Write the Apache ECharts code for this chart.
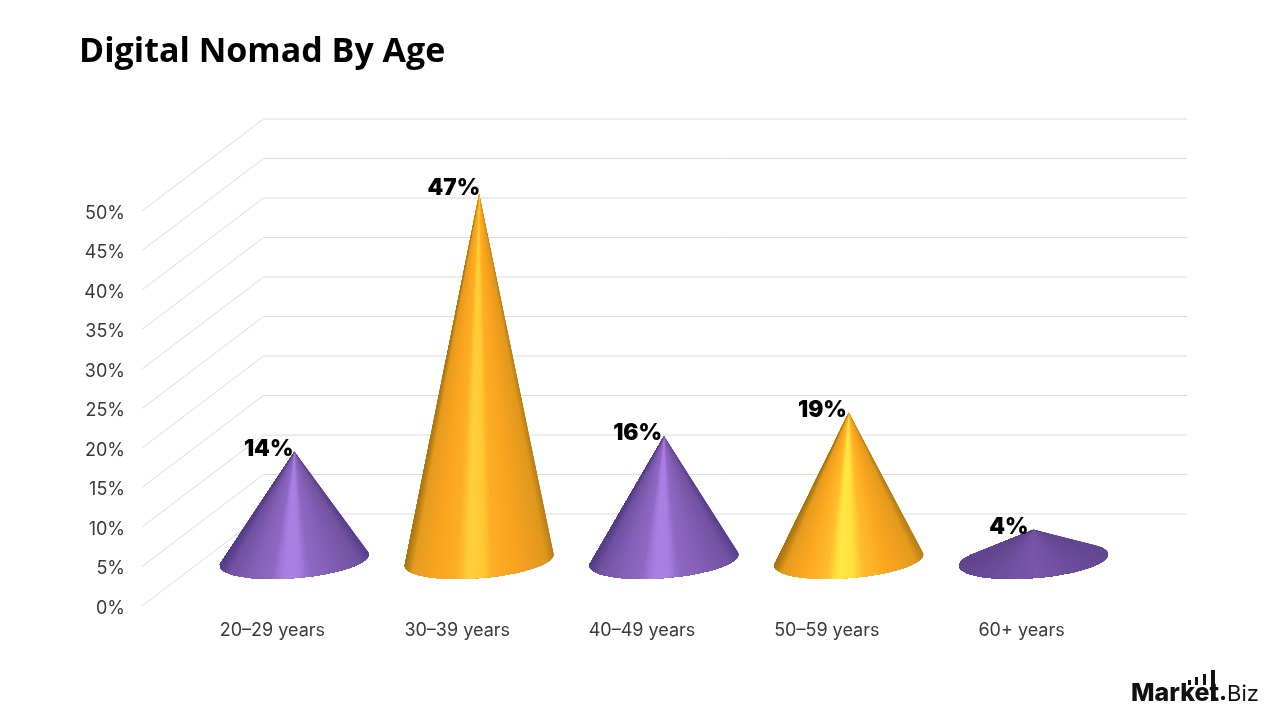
<!DOCTYPE html>
<html>
<head>
<meta charset="utf-8">
<style>html,body{margin:0;padding:0;background:#fff}#chart{width:1280px;height:720px}</style>
<script src="https://cdn.jsdelivr.net/npm/echarts@6/dist/echarts.min.js"></script>
</head>
<body>
<div id="chart"></div>
<script>
// Age groups and their share of digital nomads, in percent
const categories = ['20–29 years', '30–39 years', '40–49 years', '50–59 years', '60+ years'];
const shares = [14, 47, 16, 19, 4];
const yTicks = [0, 5, 10, 15, 20, 25, 30, 35, 40, 45, 50];

// Colour ramps across each cone, from its left edge (-1) to its right edge (1)
const purpleRamp = [[-1, '#5b4090'], [-0.88, '#73529f'], [-0.45, '#8560b8'], [-0.18, '#9068c4'], [-0.04, '#aa7ee2'], [0.16, '#aa7ee2'], [0.32, '#9068c4'], [0.6, '#8560b6'], [0.9, '#70509f'], [1, '#573d88']];
const orangeRamp = [[-1, '#b67f17'], [-0.9, '#e0981c'], [-0.45, '#fba420'], [-0.16, '#fdae25'], [-0.04, '#ffc932'], [0.16, '#ffd03a'], [0.32, '#fdae25'], [0.6, '#fba420'], [0.9, '#e69b1e'], [1, '#a87614']];
const yellowRamp = [[-1, '#b67f17'], [-0.9, '#e49a1c'], [-0.45, '#fda920'], [-0.18, '#ffbc2c'], [-0.04, '#ffe03e'], [0.16, '#ffe842'], [0.32, '#ffbc2c'], [0.6, '#fda920'], [0.9, '#e69b1e'], [1, '#a87614']];
const dimRamp = [[-1, '#634790'], [-0.5, '#6e4e9e'], [0, '#7a55ab'], [0.5, '#6e4e9e'], [1, '#62468e']];
const coneRamps = [purpleRamp, orangeRamp, purpleRamp, yellowRamp, dimRamp];

// Oblique projection of the chart floor and the cone bases
const depthX = 121.5, depthY = -92, wallRight = 1187;
const baseTilt = -4.6 * Math.PI / 180, baseMajor = 0.404, baseMinor = 18, baseLift = 1, fanSlices = 72;

// Small offsets that keep each percentage clear of its cone's tip
const labelNudgeX = [-1, 1, -2, -2, -5];
const labelNudgeY = [-3, -6, -3, -3, -3];

function hexToRgb(h) { return [1, 3, 5].map(i => parseInt(h.slice(i, i + 2), 16)); }
function rampColor(ramp, u) {
  for (let i = 1; i < ramp.length; i++) {
    if (u <= ramp[i][0]) {
      const f = (u - ramp[i - 1][0]) / (ramp[i][0] - ramp[i - 1][0]);
      const a = hexToRgb(ramp[i - 1][1]), b = hexToRgb(ramp[i][1]);
      return 'rgb(' + a.map((c, k) => Math.round(c + (b[k] - c) * f)).join(',') + ')';
    }
  }
  return ramp[ramp.length - 1][1];
}

// Back wall and side wall lines at each tick, hung off the value axis
function renderGridLine(params, api) {
  const p = api.coord([0, api.value(0)]);
  const frontX = params.coordSys.x - 38;
  const backX = frontX + depthX, backY = p[1] + depthY;
  return {
    type: 'polyline', silent: true,
    shape: { points: [[frontX, p[1]], [backX, backY], [wallRight, backY]] },
    style: { stroke: '#dcdcdc', lineWidth: 1, fill: null }
  };
}

// A cone seen from above: a fan of facets from the apex to the front arc of its base ellipse.
// Each facet overlaps the next one so no seams show between them.
function renderCone(params, api) {
  const idx = api.value(0), val = api.value(1);
  const apex = api.coord([idx, val]);
  const zero = api.coord([idx, 0]);
  const a = api.size([1, 0])[0] * baseMajor, b = baseMinor;
  const c = [zero[0], zero[1] - baseLift];
  const e1 = [Math.cos(baseTilt), Math.sin(baseTilt)], e2 = [-Math.sin(baseTilt), Math.cos(baseTilt)];
  const dx = apex[0] - c[0], dy = apex[1] - c[1];
  const p = (dx * e1[0] + dy * e1[1]) / a, q = (dx * e2[0] + dy * e2[1]) / b;
  const phi = Math.atan2(q, p), alpha = Math.acos(1 / Math.hypot(p, q));
  const start = phi + alpha, sweep = 2 * Math.PI - 2 * alpha;
  const point = t => [c[0] + a * Math.cos(t) * e1[0] + b * Math.sin(t) * e2[0],
                      c[1] + a * Math.cos(t) * e1[1] + b * Math.sin(t) * e2[1]];
  const ramp = coneRamps[params.dataIndex];
  const children = [];
  for (let i = 0; i < fanSlices; i++) {
    const t0 = start + sweep * i / fanSlices;
    const t1 = start + sweep * (i + 1) / fanSlices;
    const pts = [apex];
    // Run the facet on to the far end of the arc; later facets paint over the excess
    for (let j = i; j <= fanSlices; j++) pts.push(point(start + sweep * j / fanSlices));
    children.push({
      type: 'polygon',
      shape: { points: pts },
      style: { fill: rampColor(ramp, -Math.cos((t0 + t1) / 2)) }
    });
  }
  children.push({
    type: 'text', z2: 10,
    style: {
      text: val + '%', x: apex[0] + labelNudgeX[params.dataIndex], y: apex[1] + labelNudgeY[params.dataIndex],
      textAlign: 'right', textVerticalAlign: 'middle',
      fontFamily: 'Inter', fontWeight: 900, fontSize: 22.5, fill: '#000'
    }
  });
  return { type: 'group', children };
}

const labelFont = { fontFamily: 'Inter', fontSize: 18, color: '#3a3a3a' };
const chart = echarts.init(document.getElementById('chart'), null, { renderer: 'canvas' });
chart.setOption({
  backgroundColor: '#fff',
  animation: false,
  title: {
    text: 'Digital Nomad By Age', left: 74, top: 30,
    textStyle: { fontFamily: 'Open Sans', fontWeight: 700, fontSize: 34, color: '#000' }
  },
  grid: [
    { left: 180, width: 924, top: 211, height: 395 },
    { left: 202, width: 924, top: 171, height: 390 }
  ],
  xAxis: [
    {
      type: 'category', gridIndex: 0, data: categories,
      axisLine: { show: false }, axisTick: { show: false },
      axisLabel: {
        margin: 16, ...labelFont,
        formatter: (v, i) => i === 4 ? '{s|' + v + '}' : v,
        rich: { s: { padding: [0, 0, 0, 20], ...labelFont } }
      }
    },
    { type: 'category', gridIndex: 1, data: categories, show: false }
  ],
  yAxis: [
    {
      type: 'value', gridIndex: 0, min: 0, max: 50, interval: 5,
      axisLine: { show: false }, axisTick: { show: false }, splitLine: { show: false },
      axisLabel: { margin: 55, ...labelFont, formatter: '{value}%', verticalAlign: 'top', lineHeight: 5 }
    },
    { type: 'value', gridIndex: 1, min: 0, max: 50, show: false, splitLine: { show: false } }
  ],
  series: [
    {
      type: 'custom', xAxisIndex: 0, yAxisIndex: 0, silent: true, z: 1,
      renderItem: renderGridLine, encode: { y: 0 },
      data: yTicks.map(t => [t]), clip: false
    },
    {
      type: 'custom', xAxisIndex: 1, yAxisIndex: 1, silent: true, z: 2,
      renderItem: renderCone, encode: { x: 0, y: 1 },
      data: shares.map((s, i) => [i, s]), clip: false
    }
  ],
  graphic: [
    { type: 'text', left: 1131, top: 681, z: 5, style: { text: 'Market', fontFamily: 'Inter', fontWeight: 800, fontSize: 25, fill: '#111' } },
    { type: 'text', left: 1219, top: 682, z: 5, style: { text: '.', fontFamily: 'Inter', fontWeight: 800, fontSize: 23, fill: '#111' } },
    { type: 'text', left: 1227, top: 683, z: 5, style: { text: 'Biz', fontFamily: 'Inter', fontWeight: 400, fontSize: 22, fill: '#111' } },
    { type: 'rect', shape: { x: 1188, y: 680, width: 3, height: 5 }, style: { fill: '#111' } },
    { type: 'rect', shape: { x: 1195, y: 677, width: 3, height: 8 }, style: { fill: '#111' } },
    { type: 'rect', shape: { x: 1203, y: 674, width: 3, height: 11 }, style: { fill: '#111' } },
    { type: 'rect', shape: { x: 1211, y: 670, width: 4, height: 31 }, style: { fill: '#111' } }
  ]
});
</script>
</body>
</html>
